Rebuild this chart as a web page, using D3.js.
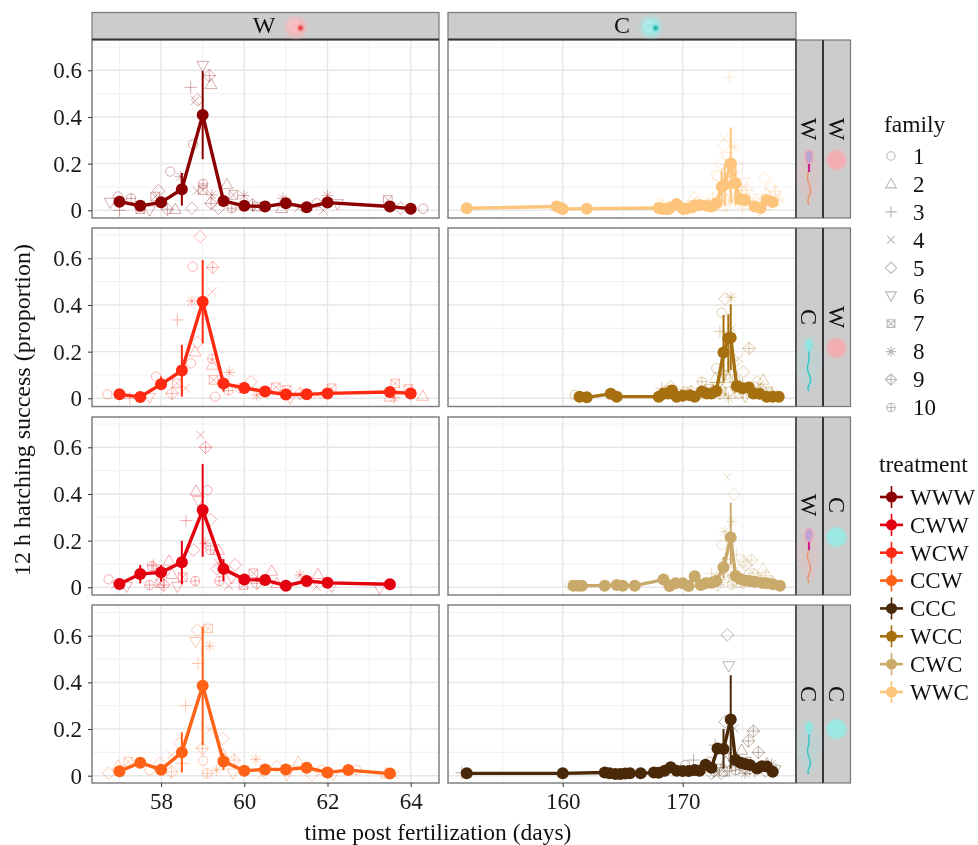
<!DOCTYPE html>
<html>
<head>
<meta charset="utf-8">
<script src="https://cdn.jsdelivr.net/npm/d3@7"></script>
<style>
  body { margin: 0; background: #fff; }
  svg { display: block; font-family: "Liberation Serif", serif; filter: blur(0.35px); }
</style>
</head>
<body>
<script>
// values: [day, proportion, family] for the faint points
const families = [1, 2, 3, 4, 5, 6, 7, 8, 9, 10];
const treatments = ["WWW", "CWW", "WCW", "CCW", "CCC", "WCC", "CWC", "WWC"];
const treatmentColors = ["#8b0000", "#e3000f", "#ff2a12", "#ff6216", "#4a2908", "#a66f0f", "#c9aa6b", "#fdc47c"];
const yTicks = [0, 0.2, 0.4, 0.6];
const yMinor = [0.1, 0.3, 0.5, 0.7];
const leftTicks = [58, 60, 62, 64];
const leftMinor = [57, 59, 61, 63];
const rightTicks = [160, 170];
const rightMinor = [155, 165, 175];

const wwwDays = [57, 57.5, 58, 58.5, 59, 59.5, 60, 60.5, 61, 61.5, 62, 63.5, 64];
const wwwMeans = [.037, .019, .034, .09, .409, .04, .019, .016, .03, .013, .033, .016, .007];
const wwwErrDays = [58.5, 59];
const wwwErrLow = [.02, .219];
const wwwErrHigh = [.16, .597];
const wwwPoints = [[59,.62,6],[59.16,.577,9],[59.2,.54,2],[58.71,.527,3],[58.88,.473,5],[58.82,.47,4],[58.77,.283,1],[58.22,.166,1],[58.47,.144,8],[57.94,.084,5],[57.86,.059,7],[57.28,.051,10],[56.96,.059,1],[56.78,.033,6],[57,0,3],[57.72,0,6],[57.5,.005,7],[58.15,.005,9],[58.34,.005,2],[58.74,.009,5],[58.86,.083,4],[59.01,.113,10],[59,.087,7],[59.22,.066,8],[59.2,.03,9],[59.58,.111,2],[59.74,.066,7],[59.99,.063,8],[59.38,.009,5],[59.7,.009,10],[60.2,.023,9],[60.3,.016,7],[60.93,.051,8],[60.9,.009,2],[61.3,.009,4],[61.74,.03,1],[61.9,0,4],[62,.063,8],[62.24,.027,6],[63.45,.044,7],[63.76,.009,5],[64.3,.007,1]];

const wcwDays = [57, 57.5, 58, 58.5, 59, 59.5, 60, 60.5, 61, 61.5, 62, 63.5, 64];
const wcwMeans = [.017, .006, .06, .119, .414, .063, .044, .029, .016, .017, .021, .027, .021];
const wcwErrDays = [58, 58.5, 59, 59.5];
const wcwErrLow = [.036, .007, .236, .029];
const wcwErrHigh = [.093, .229, .593, .086];
const wcwPoints = [[58.94,.693,5],[58.76,.564,1],[59.24,.561,9],[59.23,.457,4],[58.74,.417,8],[58.39,.336,3],[58.87,.24,5],[58.82,.2,2],[58.72,.15,1],[59.23,.169,10],[59.23,.143,2],[59.26,.079,7],[59.64,.111,8],[57.88,.093,1],[58.38,.064,7],[58.26,.021,9],[58.59,.043,4],[56.71,.017,1],[57.25,0,3],[57.72,.003,6],[59.3,.007,1],[59.62,.033,10],[59.9,.043,1],[60.16,.071,5],[60.3,.014,8],[60.76,.047,7],[61.02,.036,7],[61.1,0,6],[61.34,.021,9],[61.76,.014,4],[62.1,.043,7],[63.63,.064,7],[63.5,.007,2],[63.6,.003,8],[63.94,.04,7],[64.29,.01,2]];

const cwwDays = [57, 57.5, 58, 58.5, 59, 59.5, 60, 60.5, 61, 61.5, 62, 63.5];
const cwwMeans = [.014, .057, .064, .107, .331, .079, .033, .031, .007, .027, .019, .013];
const cwwErrDays = [57.5, 58, 58.5, 59, 59.5];
const cwwErrLow = [.017, .024, .013, .131, .027];
const cwwErrHigh = [.096, .096, .199, .529, .121];
const cwwPoints = [[58.95,.653,4],[59.07,.6,9],[58.84,.413,2],[59.11,.416,1],[58.9,.37,6],[58.6,.286,3],[59.19,.291,5],[58.78,.16,5],[59.06,.189,8],[59.19,.16,10],[59.38,.16,2],[59.38,.103,4],[59.34,.079,5],[58.19,.114,2],[57.82,.096,3],[57.78,.091,10],[57.72,.01,10],[57.98,.017,7],[58.06,.01,9],[58.26,.056,2],[58.52,.043,7],[58.39,.003,6],[58.82,.027,10],[56.74,.034,1],[56.9,.01,4],[57.17,.003,6],[59.4,.027,10],[59.62,.007,4],[59.78,.096,5],[59.7,.039,6],[59.98,.01,7],[60.22,.06,7],[60.3,.017,9],[60.66,.07,2],[60.78,.017,2],[61.34,.053,8],[61.77,.056,2],[61.74,.003,4],[62.1,.003,6],[63.25,-.004,6]];

const ccwDays = [57, 57.5, 58, 58.5, 59, 59.5, 60, 60.5, 61, 61.5, 62, 62.5, 63.5];
const ccwMeans = [.019, .056, .026, .1, .386, .061, .021, .027, .027, .034, .014, .024, .009];
const ccwErrDays = [58.5, 59, 59.5];
const ccwErrLow = [.014, .131, .024];
const ccwErrHigh = [.186, .639, .096];
const ccwPoints = [[58.87,.624,5],[59.13,.631,7],[58.83,.574,6],[59.17,.556,8],[58.89,.481,3],[58.59,.3,3],[59.48,.16,5],[59.17,.196,4],[58.99,.117,9],[59.01,.064,1],[58.45,.139,5],[58.25,.089,4],[58.51,.053,3],[57.97,.053,5],[57.21,.06,7],[56.97,.043,2],[56.74,.01,5],[57.73,.024,1],[58.25,.017,9],[59.11,.01,10],[59.33,.024,8],[59.49,.089,2],[59.76,.067,9],[59.73,.01,6],[60.28,.07,8],[60.41,.003,4],[60.78,.039,5],[61.02,.003,6],[61.3,.06,2],[61.62,.003,5],[61.86,.024,1],[62.14,.003,6],[62.7,.024,1],[63.62,.003,4],[63.42,.01,2]];

const wwcDays = [152, 159.5, 159.8, 160, 162, 168, 168.2, 168.5, 168.8, 169, 169.5, 170, 170.3, 170.8, 171, 171.4, 172, 172.4, 172.8, 173.25, 173.5, 174, 174.4, 174.8, 175.2, 176, 176.5, 177, 177.5];
const wwcMeans = [.009, .016, .011, .006, .007, .01, .007, .006, .006, .013, .027, .007, .007, .013, .021, .023, .019, .016, .03, .101, .109, .201, .116, .047, .044, .016, .01, .044, .036];
const wwcErrDays = [173.25, 173.5, 174, 174.4];
const wwcErrLow = [.03, .02, .03, .02];
const wwcErrHigh = [.17, .2, .355, .21];
const wwcPoints = [[173.89,.57,3],[173.47,.309,4],[174.3,.273,8],[173.4,.277,5],[174.64,.187,5],[172.8,.151,1],[173,.144,5],[175.33,.087,9],[176.8,.137,5],[177.7,.08,9],[177,.073,2],[170.9,.059,2],[168,.03,2],[170.2,.009,4],[173.25,.016,7],[175,.009,3],[176.4,.001,6],[173.8,.044,10],[174.4,.059,7],[173.5,.087,1],[174.1,.173,2],[173.67,.23,6],[172.2,.03,8],[178,.044,9],[173.2,.2,5],[173.6,.16,7],[173.9,.12,1],[174.2,.1,4],[174.6,.07,2],[172.5,.05,9],[172.9,.03,3],[173.3,.06,10],[173.7,.02,6],[174.9,.03,8],[175.4,.05,5],[175.8,.02,1],[176.3,.05,7],[176.9,.02,2],[177.3,.1,5],[177.9,.06,4],[171.4,.04,5],[171,.03,2],[170.5,.02,1],[169.3,.025,3],[168.3,.02,9],[175.1,.12,6],[174.9,.085,9]];

const wccDays = [161.4, 162, 164, 164.5, 168, 168.4, 168.8, 169.1, 169.5, 170, 170.6, 171, 171.6, 172, 172.4, 172.8, 173.4, 173.8, 174, 174.5, 175, 175.5, 175.9, 176.4, 177, 177.5, 178];
const wccMeans = [.007, .004, .019, .007, .007, .02, .021, .033, .007, .011, .013, .007, .029, .021, .021, .031, .196, .257, .26, .053, .043, .046, .021, .019, .007, .007, .007];
const wccErrDays = [173.4, 173.8, 174];
const wccErrLow = [.07, .11, .12];
const wccErrHigh = [.357, .36, .403];
const wccPoints = [[174.03,.433,8],[173.53,.426,5],[173.25,.367,1],[173.1,.286,3],[174.1,.3,4],[172.8,.129,1],[175.53,.214,9],[174.64,.171,4],[175.05,.114,5],[173.8,.086,2],[172.7,.086,2],[171.6,.071,10],[176.2,.071,5],[176.7,.079,2],[168.25,.043,3],[168.8,.029,9],[173.25,.029,7],[173.8,0,8],[175.2,.007,6],[161,.014,1],[174.4,.043,10],[177.5,.021,8],[171.9,.014,4],[170.2,.029,1],[172.5,.03,5],[172.9,.05,6],[173.1,.02,9],[173.3,.06,4],[173.6,.1,10],[173.9,.03,1],[174.2,.15,5],[174.4,.09,2],[174.7,.02,7],[175,.06,3],[175.3,.03,8],[175.7,.02,4],[176,.05,1],[176.5,.04,9],[177,.03,6],[177.3,.02,5],[171.2,.02,3],[170.7,.03,9],[169.8,.02,6],[169,.05,5],[168.5,.03,1],[172.2,.04,7]];

const cwcDays = [160.9, 161.3, 161.6, 163.5, 164.5, 165, 166, 168.4, 168.9, 169.4, 170, 170.5, 171, 171.5, 171.9, 172.4, 172.8, 173.4, 174, 174.4, 174.8, 175.2, 175.6, 176, 176.6, 177, 177.5, 178.1];
const cwcMeans = [.007, .007, .007, .007, .01, .007, .007, .033, .006, .017, .017, .006, .047, .01, .017, .02, .027, .086, .213, .05, .036, .029, .027, .024, .02, .017, .013, .007];
const cwcErrDays = [173.4, 174];
const cwcErrLow = [.04, .096];
const cwcErrHigh = [.13, .363];
const cwcPoints = [[173.7,.473,4],[174.25,.399,5],[174.1,.281,8],[173.5,.239,8],[173.25,.181,1],[174.5,.139,3],[175.75,.117,9],[175.2,.096,5],[176.7,.081,2],[172.4,.06,3],[173.5,.039,7],[174.1,.01,10],[175,.017,6],[160.6,.01,1],[172.9,.01,9],[176,.05,5],[177.2,.03,4],[172,.02,5],[172.6,.03,9],[173,.05,2],[173.2,.02,4],[173.7,.12,3],[173.9,.07,1],[174.2,.03,6],[174.6,.02,7],[174.8,.07,5],[175.1,.11,9],[175.5,.08,4],[175.9,.06,10],[176.3,.04,8],[176.9,.05,9],[177.5,.025,2],[171.2,.025,3],[168.7,.02,5],[170.8,.02,1]];

const cccDays = [152, 160, 163.5, 163.9, 164.4, 164.8, 165.2, 165.6, 166.5, 167.6, 168, 168.5, 169, 169.5, 170, 170.5, 171, 171.4, 171.9, 172.4, 172.9, 173.4, 174, 174.4, 174.8, 175.2, 175.6, 176.2, 176.6, 177, 177.5];
const cccMeans = [.01, .01, .014, .01, .007, .007, .009, .01, .01, .014, .013, .021, .036, .021, .02, .02, .024, .021, .047, .034, .117, .114, .241, .067, .056, .05, .046, .031, .041, .039, .017];
const cccErrDays = [173.4, 174];
const cccErrLow = [.03, .03];
const cccErrHigh = [.2, .431];
const cccPoints = [[173.72,.604,5],[173.83,.47,6],[173.53,.231,5],[174.3,.203,4],[175.89,.191,9],[175.47,.149,9],[174.9,.11,2],[176.3,.1,9],[172.7,.131,3],[170.9,.067,3],[173.4,.017,7],[172.4,.01,5],[177,.053,2],[177.7,.024,6],[170.2,.046,1],[174.4,.024,10],[175.2,.01,8],[151.6,.013,3],[172.2,.06,1],[172.6,.02,9],[173,.03,6],[173.2,.01,5],[173.6,.06,2],[173.9,.02,3],[174.2,.08,7],[174.6,.05,5],[174.9,.02,4],[175.2,.06,6],[175.6,.03,9],[176,.02,3],[176.5,.04,1],[176.9,.02,5],[177.4,.05,8],[171.5,.02,10],[171,.02,7],[170.4,.02,2],[169.6,.02,4]];

const W = 978, H = 845;
const leftX = [92, 439], rightX = [448, 796];
const rows = [[40, 218], [228, 406.5], [417, 595], [605, 783]];
const zeroY = [210.3, 398.3, 587.3, 775.7];
const pxPerUnit = 233.3;

const panels = [
  { col: 0, row: 0, name: "WWW", days: wwwDays, means: wwwMeans, errDays: wwwErrDays, errLow: wwwErrLow, errHigh: wwwErrHigh, points: wwwPoints },
  { col: 0, row: 1, name: "WCW", days: wcwDays, means: wcwMeans, errDays: wcwErrDays, errLow: wcwErrLow, errHigh: wcwErrHigh, points: wcwPoints },
  { col: 0, row: 2, name: "CWW", days: cwwDays, means: cwwMeans, errDays: cwwErrDays, errLow: cwwErrLow, errHigh: cwwErrHigh, points: cwwPoints },
  { col: 0, row: 3, name: "CCW", days: ccwDays, means: ccwMeans, errDays: ccwErrDays, errLow: ccwErrLow, errHigh: ccwErrHigh, points: ccwPoints },
  { col: 1, row: 0, name: "WWC", days: wwcDays, means: wwcMeans, errDays: wwcErrDays, errLow: wwcErrLow, errHigh: wwcErrHigh, points: wwcPoints },
  { col: 1, row: 1, name: "WCC", days: wccDays, means: wccMeans, errDays: wccErrDays, errLow: wccErrLow, errHigh: wccErrHigh, points: wccPoints },
  { col: 1, row: 2, name: "CWC", days: cwcDays, means: cwcMeans, errDays: cwcErrDays, errLow: cwcErrLow, errHigh: cwcErrHigh, points: cwcPoints },
  { col: 1, row: 3, name: "CCC", days: cccDays, means: cccMeans, errDays: cccErrDays, errLow: cccErrLow, errHigh: cccErrHigh, points: cccPoints }
];

const color = d3.scaleOrdinal(treatments, treatmentColors);
const xLeft = d3.scaleLinear().domain([56.34, 64.68]).range(leftX);
const xRight = d3.scaleLinear().domain([150.44, 179.44]).range(rightX);

const svg = d3.select("body").append("svg").attr("width", W).attr("height", H);

const defs = svg.append("defs");
defs.append("filter").attr("id", "glow").attr("x", "-60%").attr("y", "-60%").attr("width", "220%").attr("height", "220%")
  .append("feGaussianBlur").attr("stdDeviation", 2);
defs.append("filter").attr("id", "soft").attr("x", "-60%").attr("y", "-60%").attr("width", "220%").attr("height", "220%")
  .append("feGaussianBlur").attr("stdDeviation", 0.8);

// family glyphs, same shapes as the legend
function glyph(f, r) {
  const p = d3.path();
  const k = r * 0.72;
  const circle = rr => { p.moveTo(rr, 0); p.arc(0, 0, rr, 0, 2 * Math.PI); };
  const plus = rr => { p.moveTo(-rr, 0); p.lineTo(rr, 0); p.moveTo(0, -rr); p.lineTo(0, rr); };
  const cross = rr => { p.moveTo(-rr, -rr); p.lineTo(rr, rr); p.moveTo(-rr, rr); p.lineTo(rr, -rr); };
  const diamond = rr => { p.moveTo(0, -rr); p.lineTo(rr, 0); p.lineTo(0, rr); p.lineTo(-rr, 0); p.closePath(); };
  if (f === 1) circle(r * 0.78);
  if (f === 2) { p.moveTo(0, -r); p.lineTo(r, r * 0.72); p.lineTo(-r, r * 0.72); p.closePath(); }
  if (f === 3) plus(r * 1.05);
  if (f === 4) cross(k);
  if (f === 5) diamond(r * 1.05);
  if (f === 6) { p.moveTo(0, r); p.lineTo(r, -r * 0.72); p.lineTo(-r, -r * 0.72); p.closePath(); }
  if (f === 7) { p.rect(-k, -k, 2 * k, 2 * k); cross(k); }
  if (f === 8) { plus(r * 0.95); cross(k * 0.95); }
  if (f === 9) { diamond(r * 1.05); plus(r * 1.05); }
  if (f === 10) { circle(r * 0.78); plus(r * 0.78); }
  return p.toString();
}

panels.forEach(d => {
  const x = d.col === 0 ? xLeft : xRight;
  const [top, bottom] = rows[d.row];
  const y = d3.scaleLinear().domain([0, 0.6]).range([zeroY[d.row], zeroY[d.row] - 0.6 * pxPerUnit]);
  const [x0, x1] = x.range();
  const g = svg.append("g").attr("class", "panel");
  const col = color(d.name);

  g.append("g").selectAll("line").data(yMinor.filter(v => y(v) > top)).join("line")
    .attr("x1", x0).attr("x2", x1).attr("y1", v => y(v)).attr("y2", v => y(v))
    .attr("stroke", "#f0f0f0").attr("stroke-width", 1);
  g.append("g").selectAll("line").data(d.col === 0 ? leftMinor : rightMinor).join("line")
    .attr("x1", v => x(v)).attr("x2", v => x(v)).attr("y1", top).attr("y2", bottom)
    .attr("stroke", "#f0f0f0").attr("stroke-width", 1);
  g.append("g").selectAll("line").data(yTicks).join("line")
    .attr("x1", x0).attr("x2", x1).attr("y1", v => y(v)).attr("y2", v => y(v))
    .attr("stroke", "#e6e6e6").attr("stroke-width", 1.4);
  g.append("g").selectAll("line").data(d.col === 0 ? leftTicks : rightTicks).join("line")
    .attr("x1", v => x(v)).attr("x2", v => x(v)).attr("y1", top).attr("y2", bottom)
    .attr("stroke", "#e6e6e6").attr("stroke-width", 1.4);

  // faint per family points
  g.append("g").selectAll("path").data(d.points).join("path")
    .attr("transform", p => `translate(${x(p[0])},${y(p[1])})`)
    .attr("d", p => glyph(p[2], 6))
    .attr("fill", "none").attr("stroke", col)
    .attr("stroke-width", 1).attr("stroke-opacity", d.col === 0 ? 0.33 : 0.35);

  g.append("g").selectAll("line").data(d.errDays).join("line")
    .attr("x1", v => x(v)).attr("x2", v => x(v))
    .attr("y1", (v, i) => y(d.errLow[i])).attr("y2", (v, i) => y(d.errHigh[i]))
    .attr("stroke", col).attr("stroke-width", 2);

  const line = d3.line().x(v => x(v)).y((v, i) => y(d.means[i]));
  g.append("path").attr("d", line(d.days)).attr("fill", "none")
    .attr("stroke", col).attr("stroke-width", 3.4).attr("stroke-linejoin", "round");

  g.append("g").selectAll("circle").data(d.days).join("circle")
    .attr("cx", v => x(v)).attr("cy", (v, i) => y(d.means[i]))
    .attr("r", 6).attr("fill", col);

  g.append("rect").attr("x", x0).attr("y", top).attr("width", x1 - x0).attr("height", bottom - top)
    .attr("fill", "none").attr("stroke", "#808080").attr("stroke-width", 1.5);

  if (d.col === 0) {
    const axis = d3.axisLeft(y).tickValues(yTicks).tickSize(4).tickPadding(6).tickFormat(v => v === 0 ? "0" : d3.format(".1f")(v));
    const ga = svg.append("g").attr("transform", `translate(${x0},0)`).call(axis);
    ga.select(".domain").remove();
    ga.selectAll("text").attr("font-size", 23).attr("fill", "#1a1a1a").attr("font-family", "Liberation Serif");
    ga.selectAll("line").attr("stroke", "#333");
  }
  if (d.row === 3) {
    const axis = d3.axisBottom(x).tickValues(d.col === 0 ? leftTicks : rightTicks).tickSize(4).tickPadding(6);
    const ga = svg.append("g").attr("transform", `translate(0,${bottom})`).call(axis);
    ga.select(".domain").remove();
    ga.selectAll("text").attr("font-size", 23).attr("fill", "#1a1a1a").attr("font-family", "Liberation Serif");
    ga.selectAll("line").attr("stroke", "#333");
  }
});

// strips
const stripFill = "#cccccc";
[[leftX, "W", 264, 296, "#f7b5b8", "#e8202c"], [rightX, "C", 622, 651, "#9fe8e6", "#00a8a0"]].forEach(s => {
  svg.append("rect").attr("x", s[0][0]).attr("y", 12.5).attr("width", s[0][1] - s[0][0]).attr("height", 26.5)
    .attr("fill", stripFill).attr("stroke", "#777").attr("stroke-width", 1.2);
  svg.append("line").attr("x1", s[0][0]).attr("x2", s[0][1]).attr("y1", 39.5).attr("y2", 39.5)
    .attr("stroke", "#333").attr("stroke-width", 1.5);
  svg.append("text").attr("x", s[2]).attr("y", 33).attr("text-anchor", "middle").attr("font-size", 24).attr("fill", "#111").text(s[1]);
  // egg icon
  svg.append("circle").attr("cx", s[3]).attr("cy", 27).attr("r", 10).attr("fill", s[4]).attr("filter", "url(#glow)");
  svg.append("circle").attr("cx", s[3] - 2).attr("cy", 26).attr("r", 4.5).attr("fill", "none").attr("stroke", "#fff").attr("stroke-opacity", 0.6).attr("filter", "url(#soft)");
  svg.append("circle").attr("cx", s[3] + 4.5).attr("cy", 28).attr("r", 2.4).attr("fill", s[5]).attr("filter", "url(#soft)");
});

const sireLabels = ["W", "C", "W", "C"], damLabels = ["W", "W", "C", "C"];
const labelY = [129, 317, 505, 694], spermY = [157, 345, 535, 728], eggY = [160, 348, 537, 729];

rows.forEach((r, i) => {
  svg.append("rect").attr("x", 796).attr("y", r[0]).attr("width", 27).attr("height", r[1] - r[0]).attr("fill", stripFill);
  svg.append("rect").attr("x", 823).attr("y", r[0]).attr("width", 27.5).attr("height", r[1] - r[0]).attr("fill", stripFill).attr("stroke", "#777").attr("stroke-width", 1.2);
  svg.append("line").attr("x1", 796).attr("x2", 796).attr("y1", r[0]).attr("y2", r[1]).attr("stroke", "#4a4a4a").attr("stroke-width", 1.8);
  svg.append("line").attr("x1", 823).attr("x2", 823).attr("y1", r[0]).attr("y2", r[1]).attr("stroke", "#2a2a2a").attr("stroke-width", 1.8);
  svg.append("line").attr("x1", 796).attr("x2", 823).attr("y1", r[0]).attr("y2", r[0]).attr("stroke", "#777").attr("stroke-width", 1.2);
  svg.append("line").attr("x1", 796).attr("x2", 823).attr("y1", r[1]).attr("y2", r[1]).attr("stroke", "#777").attr("stroke-width", 1.2);

  [[809.5, sireLabels[i]], [837, damLabels[i]]].forEach(t => {
    svg.append("text").attr("transform", `translate(${t[0]},${labelY[i]}) rotate(90)`)
      .attr("text-anchor", "middle").attr("dy", "0.34em").attr("font-size", 24).attr("fill", "#111").text(t[1]);
  });

  // sperm icon
  const isW = sireLabels[i] === "W";
  const sy = spermY[i];
  svg.append("ellipse").attr("cx", 809).attr("cy", sy + 18).attr("rx", 11).attr("ry", 27)
    .attr("fill", isW ? "#f2b5b5" : "#9fe0e0").attr("opacity", 0.25).attr("filter", "url(#glow)");
  if (isW) {
    svg.append("path").attr("d", `M809,${sy + 14} q-3,7 0,13 q3,7 0,12 q-2,5 0,9`).attr("fill", "none").attr("stroke", "#e8926a").attr("stroke-width", 1.4);
    svg.append("line").attr("x1", 809).attr("x2", 809).attr("y1", sy + 6).attr("y2", sy + 15).attr("stroke", "#c8208a").attr("stroke-width", 2.2);
    svg.append("ellipse").attr("cx", 809).attr("cy", sy).attr("rx", 3.8).attr("ry", 6.5).attr("fill", "#b9a6d6").attr("stroke", "#f0a0b4").attr("stroke-width", 1.2);
  } else {
    svg.append("path").attr("d", `M809,${sy + 6} l0,10 q-3,7 0,13 q3,6 0,11 q-2,4 0,6`).attr("fill", "none").attr("stroke", "#2cc8c4").attr("stroke-width", 1.4);
    svg.append("ellipse").attr("cx", 809).attr("cy", sy).attr("rx", 3.6).attr("ry", 6.5).attr("fill", "#8fe3e0");
  }
  // egg circle on outer strip
  svg.append("circle").attr("cx", 836.5).attr("cy", eggY[i]).attr("r", 10)
    .attr("fill", damLabels[i] === "W" ? "#f2aeb2" : "#9be8e4").attr("filter", "url(#soft)");
});

// axis titles
svg.append("text").attr("x", 438).attr("y", 839.5).attr("text-anchor", "middle").attr("font-size", 23.5).attr("fill", "#111")
  .text("time post fertilization (days)");
svg.append("text").attr("transform", "translate(30,410) rotate(-90)").attr("text-anchor", "middle").attr("font-size", 24).attr("fill", "#111")
  .text("12 h hatching success (proportion)");

// family legend
svg.append("text").attr("x", 884).attr("y", 132).attr("font-size", 23.5).attr("fill", "#111").text("family");
const famScale = d3.scalePoint().domain(families).range([156, 407.5]);
const famRows = svg.append("g").selectAll("g").data(families).join("g")
  .attr("transform", f => `translate(0,${famScale(f)})`);
famRows.append("path").attr("transform", "translate(891,0)").attr("d", f => glyph(f, 5.4))
  .attr("fill", "none").attr("stroke", "#000").attr("stroke-opacity", 0.28).attr("stroke-width", 1.1);
famRows.append("text").attr("x", 913).attr("dy", "0.34em").attr("font-size", 23).attr("fill", "#111").text(f => f);

// treatment legend
svg.append("text").attr("x", 879).attr("y", 472).attr("font-size", 23.5).attr("fill", "#111").text("treatment");
const trScale = d3.scalePoint().domain(treatments).range([497, 692]);
const trRows = svg.append("g").selectAll("g").data(treatments).join("g")
  .attr("transform", t => `translate(0,${trScale(t)})`);
trRows.append("line").attr("x1", 880).attr("x2", 903).attr("stroke", t => color(t)).attr("stroke-width", 2.6);
trRows.append("line").attr("x1", 891.5).attr("x2", 891.5).attr("y1", -11).attr("y2", 11).attr("stroke", t => color(t)).attr("stroke-width", 1.6);
trRows.append("circle").attr("cx", 891.5).attr("r", 5.5).attr("fill", t => color(t));
trRows.append("text").attr("x", 910).attr("dy", "0.34em").attr("font-size", 23).attr("fill", "#111").text(t => t);
</script>
</body>
</html>
